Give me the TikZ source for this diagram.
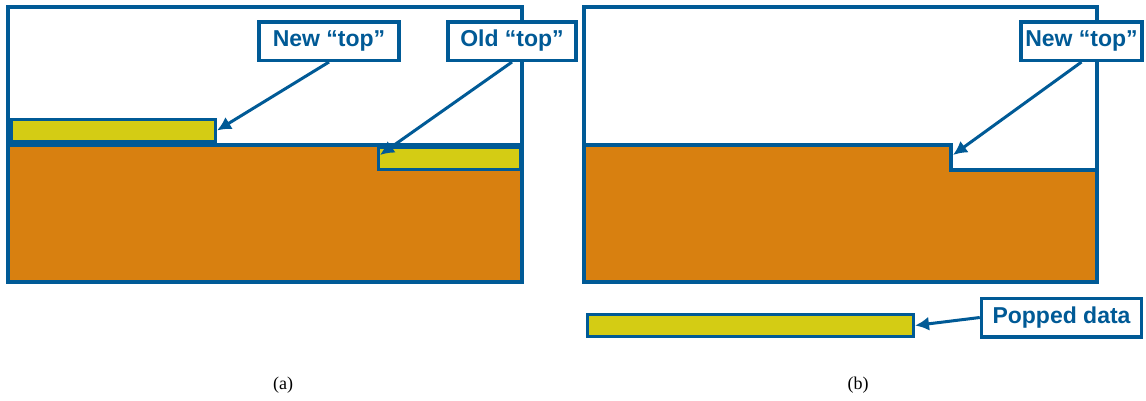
\documentclass[tikz,border=0pt]{standalone}
\usepackage{fontspec}
\setmainfont{Liberation Serif}
\setsansfont{Liberation Sans}
\usetikzlibrary{arrows.meta}

\definecolor{stackblue}{RGB}{0,90,150}
\definecolor{stackorange}{RGB}{216,128,16}
\definecolor{stackyellow}{RGB}{212,204,20}

\tikzset{
  frame/.style={draw=stackblue,line width=4pt},
  tag/.style={draw=stackblue,line width=3.5pt,fill=white,text=stackblue,
    font=\sffamily\bfseries\fontsize{23}{26}\selectfont,inner sep=0pt,minimum height=38.5pt},
  datablk/.style={draw=stackblue,line width=3pt,fill=stackyellow,inner sep=0pt,minimum height=22pt},
  ptr/.style={draw=stackblue,line width=3pt,-{Latex[length=14pt,width=14pt]}},
  capt/.style={font=\fontsize{18}{21}\selectfont}
}

\begin{document}
\begin{tikzpicture}[x=1pt,y=-1pt]
\useasboundingbox (0,0) rectangle (1146,400);

% (a) stack before the pop
\fill[stackorange] (8,145) rectangle (522,282);
\draw[stackblue,line width=4pt] (8,145) -- (522,145);
\node[datablk,minimum width=142pt] (olda) at (449.5,158) {};
\node[datablk,minimum width=204pt] (newblka) at (113.5,130.5) {};
\draw[frame] (8,7) rectangle (522,282);

\node[tag,minimum width=140pt] (newa) at (329,41) {New “top”};
\node[tag,minimum width=128pt] (oldtag) at (512,41) {Old “top”};
\coordinate (oldtip) at (380,155);
\draw[ptr] (newa.south) -- (newblka.east);
\draw[ptr] (oldtag.south) -- (oldtip);

% (b) stack after the pop
\fill[stackorange] (584,145) -- (951,145) -- (951,170) -- (1097,170)
  -- (1097,282) -- (584,282) -- cycle;
\draw[stackblue,line width=4pt] (584,145) -- (951,145) -- (951,170) -- (1097,170);
\draw[frame] (584,7) rectangle (1097,282);

\node[tag,minimum width=121pt] (newb) at (1081.5,41) {New “top”};
\coordinate (stepb) at (953,155);
\draw[ptr] (newb.south) -- (stepb);

\node[datablk,minimum width=326pt] (popblk) at (750.5,325.5) {};
\node[tag,minimum width=160pt] (popl) at (1061.5,317.5) {Popped data};
\draw[ptr] (popl.west) -- (popblk.east);

\node[capt] (capa) at (283,385) {(a)};
\node[capt] (capb) at (858,385) {(b)};
\end{tikzpicture}
\end{document}
